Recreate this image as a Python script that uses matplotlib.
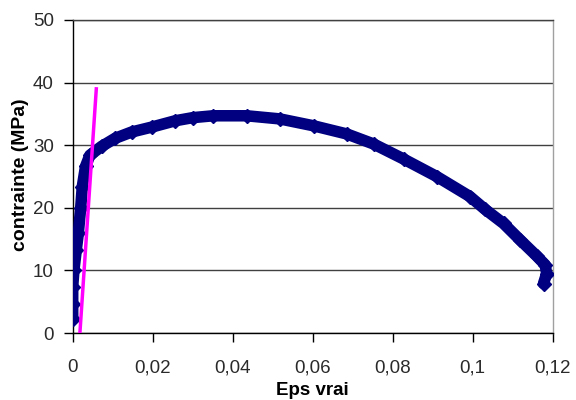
import matplotlib
matplotlib.use("Agg")
import matplotlib.pyplot as plt
from matplotlib.ticker import FixedLocator

# data
eps = [0.0000, 0.0000, 0.0000, 0.0003, 0.0009, 0.0014, 0.0020, 0.0024, 0.0032,
       0.0043, 0.0072, 0.0106, 0.0147, 0.0198, 0.0256, 0.0300, 0.0351, 0.0435,
       0.0518, 0.0602, 0.0685, 0.0752, 0.0827, 0.0910, 0.0993, 0.1030, 0.1077,
       0.1118, 0.1160, 0.1181, 0.1185, 0.1177]
stress = [2.2, 4.7, 7.4, 10.0, 13.3, 15.9, 20.0, 23.4, 26.6,
          28.4, 29.8, 31.1, 32.1, 32.9, 33.9, 34.4, 34.7, 34.7,
          34.2, 33.1, 31.8, 30.2, 27.8, 25.0, 21.8, 19.8, 17.5,
          14.9, 12.3, 10.9, 9.5, 7.9]

elastic_eps = [0.0018, 0.0059]
elastic_stress = [0.0, 39.0]

x_ticks = [0, 0.02, 0.04, 0.06, 0.08, 0.1, 0.12]
x_tick_labels = ["0", "0,02", "0,04", "0,06", "0,08", "0,1", "0,12"]
y_ticks = [0, 10, 20, 30, 40, 50]

plt.rcParams['font.family'] = ['Liberation Sans', 'DejaVu Sans']

fig = plt.figure(figsize=(5.76, 4.0), dpi=100)
ax = fig.add_axes([72.7 / 576, 1 - 333 / 400, 480 / 576, 313 / 400])

navy = '#000080'
ax.plot(eps, stress, '-', color=navy, lw=8.3, solid_capstyle='round',
        solid_joinstyle='round', zorder=3)
ax.plot(eps, stress, 'D', color=navy, ms=7, zorder=4)
ax.plot(elastic_eps, elastic_stress, '-', color='#FF00FF', lw=2.5, zorder=5)

ax.set_xlim(0, 0.12)
ax.set_ylim(0, 50)
ax.xaxis.set_major_locator(FixedLocator(x_ticks))
ax.set_xticklabels(x_tick_labels)
ax.yaxis.set_major_locator(FixedLocator(y_ticks))
ax.set_yticklabels([str(v) for v in y_ticks])

ax.grid(axis='y', color='#404040', lw=1.0, zorder=1)
ax.set_axisbelow(True)

for s in ['left', 'bottom']:
    ax.spines[s].set_color('black')
    ax.spines[s].set_linewidth(1.0)
ax.spines['top'].set_color('#404040')
ax.spines['top'].set_linewidth(1.0)
ax.spines['right'].set_color('#a0a0a0')
ax.spines['right'].set_linewidth(1.0)

ax.tick_params(axis='x', direction='out', length=6.5, width=1.0,
               labelsize=13.5, pad=12.5, colors='black')
ax.tick_params(axis='y', direction='out', length=6.5, width=1.0,
               labelsize=13.5, pad=7.0, colors='black')
for lab in ax.get_xticklabels() + ax.get_yticklabels():
    lab.set_color('#2a2a2a')

fig.text(312.7 / 576, 1 - 395 / 400, 'Eps vrai', ha='center', va='baseline',
         fontsize=13.5, fontweight='bold')
fig.text(25 / 576, 1 - 175 / 400, 'contrainte (MPa)', ha='center', va='baseline',
         rotation=90, rotation_mode='anchor', fontsize=14, fontweight='bold')

fig.savefig('out.png', dpi=100, facecolor='white')
